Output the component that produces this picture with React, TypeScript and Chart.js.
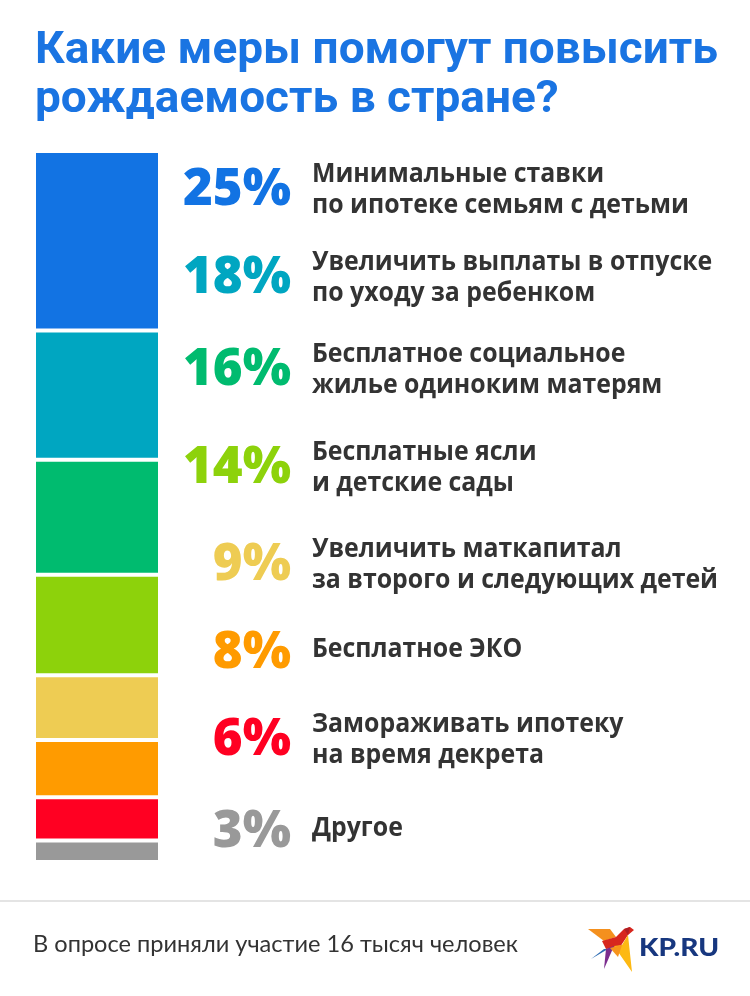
import React, { useEffect, useRef } from "react";
import { Chart, registerables } from "chart.js";

Chart.register(...registerables);

// ---------- data ----------
const TITLE_LINES = ["Какие меры помогут повысить", "рождаемость в стране?"];
const CATEGORIES: string[][] = [
  ["Минимальные ставки", "по ипотеке семьям с детьми"],
  ["Увеличить выплаты в отпуске", "по уходу за ребенком"],
  ["Бесплатное социальное", "жилье одиноким матерям"],
  ["Бесплатные ясли", "и детские сады"],
  ["Увеличить маткапитал", "за второго и следующих детей"],
  ["Бесплатное ЭКО"],
  ["Замораживать ипотеку", "на время декрета"],
  ["Другое"],
];
const VALUES = [25, 18, 16, 14, 9, 8, 6, 3];
const COLORS = ["#1273E3", "#00A6C1", "#00BB6F", "#8DD20B", "#EECC53", "#FF9B00", "#FF0022", "#999999"];
const FOOTNOTE = "В опросе приняли участие 16 тысяч человек";
const BRAND = "KP.RU";

// ---------- layout ----------
const W = 750;
const H = 996;
const BAR_LEFT = 36;
const BAR_RIGHT = 158;
const BAR_TOP = 151;
const BAR_BOTTOM = 862;
const PCT_BASELINES = [205, 293, 385, 483, 580, 668, 755, 847];

function drawScaled(ctx: CanvasRenderingContext2D, text: string, x: number, y: number, sx: number, align: CanvasTextAlign) {
  ctx.save();
  ctx.translate(x, y);
  ctx.scale(sx, 1);
  ctx.textAlign = align;
  ctx.fillText(text, 0, 0);
  ctx.restore();
}

function drawBird(ctx: CanvasRenderingContext2D, ox: number, oy: number) {
  const polys: [string, number[][]][] = [
    ["#F4901E", [[0, 2], [22, 2], [28, 10], [16, 14]]],
    ["#D7261E", [[14, 14], [28, 10], [36, 2], [42, 0], [46, 3], [40, 8], [32, 20], [18, 22]]],
    ["#B01E23", [[36, 2], [42, 0], [40, 8]]],
    ["#2E6DB4", [[3, 32], [16, 22], [20, 22]]],
    ["#7B2D8E", [[18, 22], [26, 19], [16, 42]]],
    ["#FDB913", [[26, 19], [34, 18], [40, 8], [44, 45]]],
    ["#F7941D", [[22, 21], [34, 18], [30, 30]]],
  ];
  for (const [c, pts] of polys) {
    ctx.beginPath();
    pts.forEach((p, i) => (i === 0 ? ctx.moveTo(ox + p[0], oy + p[1]) : ctx.lineTo(ox + p[0], oy + p[1])));
    ctx.closePath();
    ctx.fillStyle = c;
    ctx.fill();
  }
}

const overlay = {
  id: "overlay",
  afterDraw(chart: any) {
    const ctx: CanvasRenderingContext2D = chart.ctx;
    ctx.save();
    ctx.textBaseline = "alphabetic";

    // title
    ctx.fillStyle = "#1A74E2";
    ctx.font = "700 44px Roboto";
    const ts = 683 / ctx.measureText(TITLE_LINES[0]).width;
    drawScaled(ctx, TITLE_LINES[0], 35, 63, ts, "left");
    drawScaled(ctx, TITLE_LINES[1], 35, 112, ts, "left");

    // percentages
    ctx.font = '800 51px "Open Sans"';
    const ps = 108 / ctx.measureText(VALUES[0] + "%").width;
    VALUES.forEach((v, i) => {
      ctx.fillStyle = COLORS[i];
      drawScaled(ctx, v + "%", 291, PCT_BASELINES[i], ps, "right");
    });

    // labels
    ctx.font = '700 27px "Open Sans"';
    ctx.fillStyle = "#333333";
    const ls = 406 / ctx.measureText(CATEGORIES[4][1]).width;
    CATEGORIES.forEach((lines, i) => {
      const b = PCT_BASELINES[i];
      if (lines.length === 1) {
        drawScaled(ctx, lines[0], 312, b - 11, ls, "left");
      } else {
        drawScaled(ctx, lines[0], 312, b - 23, ls, "left");
        drawScaled(ctx, lines[1], 312, b + 8, ls, "left");
      }
    });

    // footer
    ctx.fillStyle = "#E4E4E4";
    ctx.fillRect(0, 900, W, 2);
    ctx.fillStyle = "#333333";
    ctx.font = "400 23px Lato";
    const fs = 485 / ctx.measureText(FOOTNOTE).width;
    drawScaled(ctx, FOOTNOTE, 33, 952, fs, "left");

    // logo
    drawBird(ctx, 588, 927);
    ctx.fillStyle = "#17377F";
    ctx.font = "900 24px Lato";
    const bs = 80 / ctx.measureText(BRAND).width;
    drawScaled(ctx, BRAND, 639, 956, bs, "left");

    ctx.restore();
  },
};

export default function App() {
  const ref = useRef<HTMLCanvasElement>(null);
  useEffect(() => {
    document.body.style.margin = "0";
    const canvas = ref.current!;
    const total = VALUES.reduce((a, b) => a + b, 0);
    const chart = new Chart(canvas, {
      type: "bar",
      data: {
        labels: [""],
        datasets: VALUES.map((v, i) => ({
          label: CATEGORIES[i].join(" "),
          data: [v],
          backgroundColor: COLORS[i],
          borderColor: "#FFFFFF",
          borderWidth: { top: 2, bottom: 2, left: 0, right: 0 },
          borderSkipped: false,
          inflateAmount: 0,
          categoryPercentage: 1,
          barPercentage: 1,
          stack: "s",
        })),
      },
      options: {
        responsive: false,
        animation: false,
        devicePixelRatio: 1,
        layout: {
          padding: {
            left: BAR_LEFT,
            right: W - BAR_RIGHT,
            top: BAR_TOP,
            bottom: H - BAR_BOTTOM,
          },
        },
        scales: {
          x: { display: false, stacked: true },
          y: { display: false, stacked: true, min: 0, max: total, reverse: true },
        },
        plugins: {
          legend: { display: false },
          tooltip: { enabled: false },
        },
      },
      plugins: [overlay],
    } as any);
    return () => chart.destroy();
  }, []);
  return (
    <div style={{ width: W, height: H, background: "#FFFFFF" }}>
      <canvas ref={ref} width={W} height={H} style={{ display: "block" }} />
    </div>
  );
}
